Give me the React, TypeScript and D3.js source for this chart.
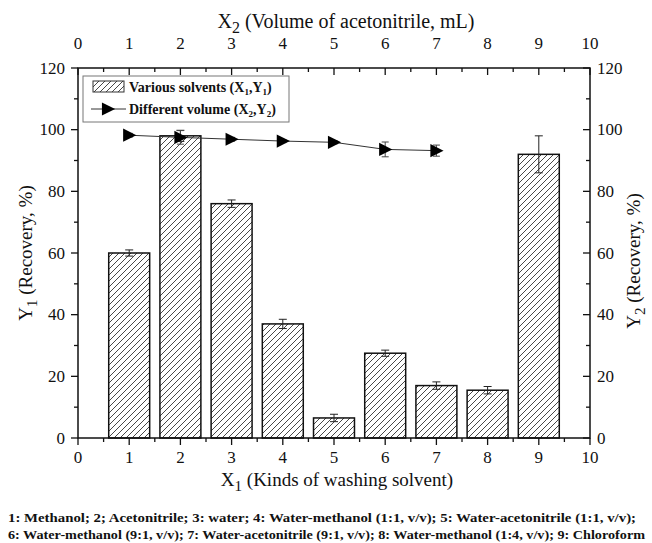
import React from "react";
import * as d3 from "d3";

// Bar series: recovery (Y1, %) for each washing solvent (X1)
const solventIds = [1, 2, 3, 4, 5, 6, 7, 8, 9];
const solventRecovery = [60, 98, 76, 37, 6.5, 27.5, 17, 15.5, 92];
const solventError = [1, 1.8, 1.2, 1.5, 1.2, 1, 1.2, 1.2, 6];

// Line series: recovery (Y2, %) vs. volume of acetonitrile (X2, mL)
const volumes = [1, 2, 3, 4, 5, 6, 7];
const volumeRecovery = [98.2, 97.5, 96.9, 96.3, 95.9, 93.6, 93.2];
const volumeError = [0.6, 2.2, 0.6, 0.5, 0.5, 2.4, 1.8];

const xTicks = [0, 1, 2, 3, 4, 5, 6, 7, 8, 9, 10];
const yTicks = [0, 20, 40, 60, 80, 100, 120];

const footnote1 =
  "1: Methanol; 2; Acetonitrile; 3: water; 4: Water-methanol (1:1, v/v); 5: Water-acetonitrile (1:1, v/v);";
const footnote2 =
  "6: Water-methanol (9:1, v/v); 7: Water-acetonitrile (9:1, v/v); 8: Water-methanol (1:4, v/v); 9: Chloroform";

const W = 652;
const H = 543;
const left = 78;
const right = 590;
const top = 68;
const bottom = 438;

const FONT = "Liberation Serif, Times New Roman, Times, serif";

export default function App() {
  const x = d3.scaleLinear().domain([0, 10]).range([left, right]);
  const y = d3.scaleLinear().domain([0, 120]).range([bottom, top]);
  const barW = x(0.8) - x(0);
  const minorX = d3.range(0.5, 10, 1);
  const minorY = d3.range(10, 120, 20);

  const line = d3
    .line<number>()
    .x((_, i) => x(volumes[i]))
    .y((d) => y(d));

  const tri = (cx: number, cy: number, s: number) =>
    `M${cx - s * 0.55},${cy - s * 0.6}L${cx + s * 0.65},${cy}L${cx - s * 0.55},${cy + s * 0.6}Z`;

  return (
    <svg
      width={W}
      height={H}
      style={{ position: "absolute", left: 0, top: 0, background: "#fff", fontFamily: FONT }}
    >
      <defs>
        <pattern id="hatch" patternUnits="userSpaceOnUse" width="6" height="6">
          <path d="M-1,7 L7,-1 M-4,4 L4,-4 M2,10 L10,2" stroke="#333" strokeWidth="0.9" />
        </pattern>
      </defs>
      <rect width={W} height={H} fill="#fff" />

      {/* bars */}
      {solventIds.map((id, i) => (
        <g key={id}>
          <rect
            x={x(id) - barW / 2}
            y={y(solventRecovery[i])}
            width={barW}
            height={y(0) - y(solventRecovery[i])}
            fill="url(#hatch)"
            stroke="#111"
            strokeWidth={1.5}
          />
          <g stroke="#222" strokeWidth={1}>
            <line
              x1={x(id)}
              x2={x(id)}
              y1={y(solventRecovery[i] - solventError[i])}
              y2={y(solventRecovery[i] + solventError[i])}
            />
            <line
              x1={x(id) - 4}
              x2={x(id) + 4}
              y1={y(solventRecovery[i] + solventError[i])}
              y2={y(solventRecovery[i] + solventError[i])}
            />
            <line
              x1={x(id) - 4}
              x2={x(id) + 4}
              y1={y(solventRecovery[i] - solventError[i])}
              y2={y(solventRecovery[i] - solventError[i])}
            />
          </g>
        </g>
      ))}

      {/* line series */}
      <path d={line(volumeRecovery) || ""} fill="none" stroke="#333" strokeWidth={1} />
      {volumes.map((v, i) => (
        <g key={v}>
          <g stroke="#444" strokeWidth={1}>
            <line
              x1={x(v)}
              x2={x(v)}
              y1={y(volumeRecovery[i] - volumeError[i])}
              y2={y(volumeRecovery[i] + volumeError[i])}
            />
            <line
              x1={x(v) - 3.5}
              x2={x(v) + 3.5}
              y1={y(volumeRecovery[i] + volumeError[i])}
              y2={y(volumeRecovery[i] + volumeError[i])}
            />
            <line
              x1={x(v) - 3.5}
              x2={x(v) + 3.5}
              y1={y(volumeRecovery[i] - volumeError[i])}
              y2={y(volumeRecovery[i] - volumeError[i])}
            />
          </g>
          <path d={tri(x(v), y(volumeRecovery[i]), 11)} fill="#000" />
        </g>
      ))}

      {/* frame */}
      <rect
        x={left}
        y={top}
        width={right - left}
        height={bottom - top}
        fill="none"
        stroke="#111"
        strokeWidth={1.5}
      />

      <g stroke="#111" strokeWidth={1.3}>
        {/* bottom axis: ticks outward */}
        {xTicks.map((t) => (
          <line key={"b" + t} x1={x(t)} x2={x(t)} y1={bottom} y2={bottom + 7} />
        ))}
        {minorX.map((t) => (
          <line key={"bm" + t} x1={x(t)} x2={x(t)} y1={bottom} y2={bottom + 4} />
        ))}
        {/* top axis: ticks inward */}
        {xTicks.map((t) => (
          <line key={"t" + t} x1={x(t)} x2={x(t)} y1={top} y2={top + 7} />
        ))}
        {minorX.map((t) => (
          <line key={"tm" + t} x1={x(t)} x2={x(t)} y1={top} y2={top + 4} />
        ))}
        {/* left axis: ticks outward */}
        {yTicks.map((t) => (
          <line key={"l" + t} x1={left - 7} x2={left} y1={y(t)} y2={y(t)} />
        ))}
        {minorY.map((t) => (
          <line key={"lm" + t} x1={left - 4} x2={left} y1={y(t)} y2={y(t)} />
        ))}
        {/* right axis: ticks inward */}
        {yTicks.map((t) => (
          <line key={"r" + t} x1={right - 7} x2={right} y1={y(t)} y2={y(t)} />
        ))}
        {minorY.map((t) => (
          <line key={"rm" + t} x1={right - 4} x2={right} y1={y(t)} y2={y(t)} />
        ))}
      </g>

      <g fontSize={17} fill="#111">
        {xTicks.map((t) => (
          <text key={"bl" + t} x={x(t)} y={bottom + 25} textAnchor="middle">
            {t}
          </text>
        ))}
        {xTicks.map((t) => (
          <text key={"tl" + t} x={x(t)} y={top - 19} textAnchor="middle">
            {t}
          </text>
        ))}
        {yTicks.map((t) => (
          <text key={"ll" + t} x={left - 13} y={y(t) + 5.5} textAnchor="end">
            {t}
          </text>
        ))}
        {yTicks.map((t) => (
          <text key={"rl" + t} x={right + 7} y={y(t) + 5.5} textAnchor="start">
            {t}
          </text>
        ))}
      </g>

      {/* axis titles */}
      <g fill="#111">
        <text x={346} y={28} textAnchor="middle" fontSize={20}>
          X<tspan fontSize={16} dy={5}>2</tspan>
          <tspan dy={-5}> (Volume of acetonitrile, mL)</tspan>
        </text>
        <text x={337} y={486} textAnchor="middle" fontSize={19}>
          X<tspan fontSize={15} dy={5}>1</tspan>
          <tspan dy={-5}> (Kinds of washing solvent)</tspan>
        </text>
        <text
          transform={`translate(32,${(top + bottom) / 2}) rotate(-90)`}
          textAnchor="middle"
          fontSize={19}
        >
          Y<tspan fontSize={15} dy={5}>1</tspan>
          <tspan dy={-5}> (Recovery, %)</tspan>
        </text>
        <text
          transform={`translate(640,${(top + bottom) / 2 + 8}) rotate(-90)`}
          textAnchor="middle"
          fontSize={19}
        >
          Y<tspan fontSize={15} dy={5}>2</tspan>
          <tspan dy={-5}> (Recovery, %)</tspan>
        </text>
      </g>

      {/* legend */}
      <g>
        <rect x={83} y={76} width={206} height={46} fill="#fff" stroke="#777" strokeWidth={1} />
        <rect x={93} y={81} width={31} height={11} fill="url(#hatch)" stroke="#333" strokeWidth={1} />
        <text x={129} y={92} fontSize={14} fontWeight="bold" fill="#111">
          Various solvents (X<tspan fontSize={9} dy={3}>1</tspan>
          <tspan dy={-3}>,Y</tspan>
          <tspan fontSize={9} dy={3}>1</tspan>
          <tspan dy={-3}>)</tspan>
        </text>
        <line x1={91} x2={126} y1={109} y2={109} stroke="#333" strokeWidth={1} />
        <path d={tri(108, 109, 11)} fill="#000" />
        <text x={129} y={114} fontSize={14} fontWeight="bold" fill="#111">
          Different volume (X<tspan fontSize={9} dy={3}>2</tspan>
          <tspan dy={-3}>,Y</tspan>
          <tspan fontSize={9} dy={3}>2</tspan>
          <tspan dy={-3}>)</tspan>
        </text>
      </g>

      {/* footnote */}
      <g fontSize={12} fontWeight="bold" fill="#111">
        <text x={8} y={522} textLength={628} lengthAdjust="spacingAndGlyphs">
          {footnote1}
        </text>
        <text x={8} y={539} textLength={637} lengthAdjust="spacingAndGlyphs">
          {footnote2}
        </text>
      </g>
    </svg>
  );
}
